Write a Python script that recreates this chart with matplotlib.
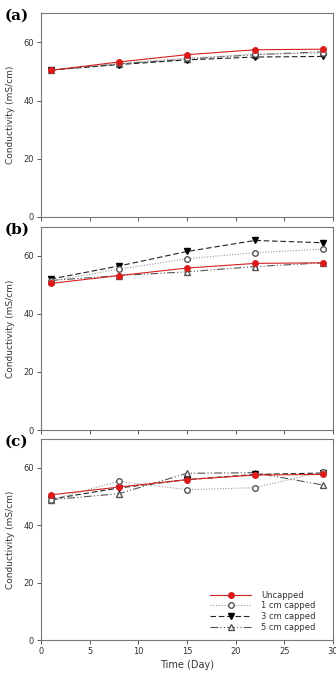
import matplotlib.pyplot as plt
import numpy as np

# data
days = [1, 8, 15, 22, 29]
labels = ["Uncapped", "1 cm capped", "3 cm capped", "5 cm capped"]

a_uncapped = [50.4, 53.3, 55.8, 57.5, 57.7]
a_1cm = [50.5, 52.8, 54.6, 56.0, 56.3]
a_3cm = [50.5, 52.4, 54.0, 55.0, 55.2]
a_5cm = [50.5, 52.6, 54.3, 55.8, 56.8]

b_uncapped = [50.5, 53.2, 55.8, 57.4, 57.6]
b_1cm = [51.3, 55.4, 59.0, 61.1, 62.3]
b_3cm = [52.0, 56.5, 61.5, 65.3, 64.5]
b_5cm = [51.5, 53.2, 54.5, 56.3, 57.6]

c_uncapped = [50.5, 53.2, 55.8, 57.4, 57.6]
c_1cm = [48.8, 55.2, 52.3, 53.0, 58.6]
c_3cm = [49.0, 52.9, 55.8, 57.6, 58.1]
c_5cm = [48.8, 50.9, 58.0, 58.2, 53.9]

panels = [("(a)", [a_uncapped, a_1cm, a_3cm, a_5cm]),
          ("(b)", [b_uncapped, b_1cm, b_3cm, b_5cm]),
          ("(c)", [c_uncapped, c_1cm, c_3cm, c_5cm])]

styles = [
    dict(color="#d62020", linestyle="-", marker="o", mfc="#e01818", mec="#d62020", lw=0.8, ms=4),
    dict(color="#999999", linestyle=(0, (1, 1.5)), marker="o", mfc="white", mec="#555555", lw=0.8, ms=4),
    dict(color="#222222", linestyle=(0, (5, 2.5)), marker="v", mfc="black", mec="black", lw=0.8, ms=4),
    dict(color="#555555", linestyle=(0, (7, 2, 1, 2, 1, 2)), marker="^", mfc="white", mec="#555555", lw=0.8, ms=4),
]

fig = plt.figure(figsize=(3.36, 6.73), dpi=100)
boxes = [(0.122, 0.678, 0.869, 0.302),
         (0.122, 0.361, 0.869, 0.302),
         (0.122, 0.049, 0.869, 0.299)]

for (tag, series), box in zip(panels, boxes):
    ax = fig.add_axes(box)
    # draw back to front so uncapped sits on top
    for i in [3, 2, 1, 0]:
        ax.plot(days, series[i], label=labels[i], **styles[i])
    ax.set_xlim(0, 30)
    ax.set_ylim(0, 70)
    ax.set_xticks(np.arange(0, 31, 5))
    ax.set_yticks([0, 20, 40, 60])
    for s in ax.spines.values():
        s.set_color("#777777")
        s.set_linewidth(0.8)
    ax.tick_params(direction="out", length=3, width=0.7, color="#555555",
                   labelsize=6, labelcolor="#333333", pad=2)
    ax.set_ylabel("Conductivity (mS/cm)", fontsize=6.5, color="#333333", labelpad=6)
    fig.text(0.015, box[1] + box[3] - 0.004, tag, fontsize=11, fontweight="bold",
             family="DejaVu Serif", va="center")
    if tag != "(c)":
        ax.set_xticklabels([])
    else:
        ax.set_xlabel("Time (Day)", fontsize=7, color="#333333", labelpad=3)
        h, l = ax.get_legend_handles_labels()
        ax.legend(h[::-1], l[::-1], loc="lower right", frameon=False, fontsize=6,
                  handlelength=5.0, handletextpad=1.2, labelcolor="#333333",
                  borderaxespad=0.6, labelspacing=0.2, bbox_to_anchor=(0.97, 0.0))

fig.savefig("out.png", dpi=100)
